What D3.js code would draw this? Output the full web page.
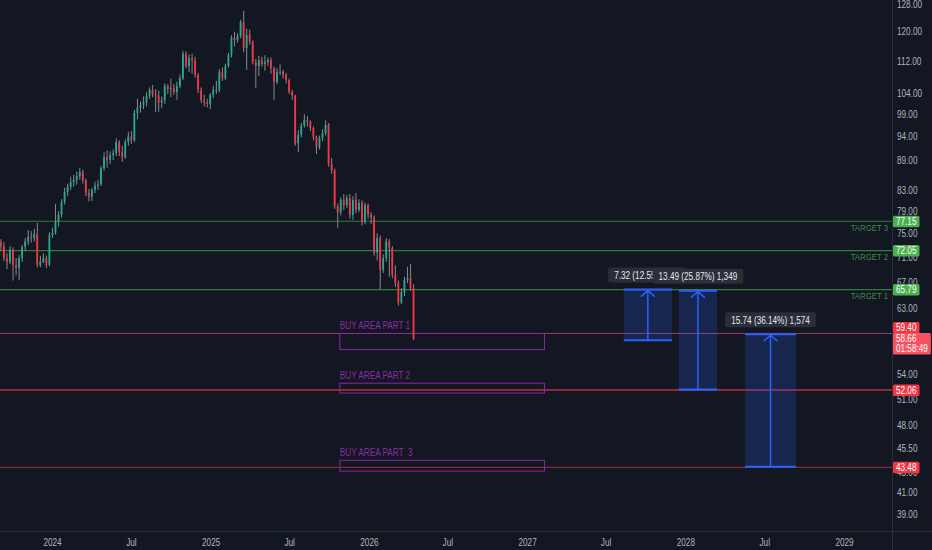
<!DOCTYPE html>
<html>
<head>
<meta charset="utf-8">
<script src="https://cdn.jsdelivr.net/npm/d3@7"></script>
<style>
    body { margin: 0; background: #131722; overflow: hidden; }
    svg text { font-family: "Liberation Sans", Arial, sans-serif; white-space: pre; }
</style>
</head>
<body>
<div id="chart"></div>
<script>
// weekly candles, first week 2023-08-21
let firstWeek = new Date(2023, 7, 21);
let opens = [
    73.6, 74.2, 73.4, 72.7, 70.8, 70.2, 72.2, 69.7, 69.2, 70.8,
    72.7, 73.6, 74.4, 74.2, 74.9, 69.7, 70.2, 70.8, 69.7, 74.7,
    75.1, 77.0, 78.3, 80.7, 82.6, 83.6, 84.5, 84.9, 85.7, 86.5,
    84.9, 82.4, 81.7, 83.0, 83.8, 84.1, 87.3, 89.6, 89.0, 90.0,
    90.4, 92.8, 90.7, 89.6, 92.8, 94.0, 93.2, 99.3, 100.5, 101.2,
    101.8, 103.4, 104.8, 103.6, 103.4, 101.8, 102.3, 105.7, 105.0, 105.2,
    104.3, 105.7, 107.7, 114.0, 110.8, 112.8, 112.3, 108.5, 104.8, 102.3,
    101.8, 101.4, 103.6, 104.8, 104.8, 109.3, 107.7, 110.8, 113.7, 118.3,
    117.7, 118.8, 122.7, 115.5, 119.1, 117.2, 111.8, 110.8, 112.3, 111.3,
    111.8, 112.3, 110.2, 106.7, 109.3, 109.3, 108.5, 107.2, 104.3, 103.4,
    92.5, 94.4, 96.4, 97.7, 97.2, 95.9, 93.9, 91.7, 93.7, 94.8,
    96.6, 88.2, 86.9, 79.9, 78.8, 81.1, 80.1, 81.4, 78.3, 81.1,
    79.2, 80.5, 77.0, 80.1, 78.3, 77.8, 71.7, 74.2, 68.9, 70.8,
    73.6, 72.5, 68.1, 66.8, 63.8, 65.4, 67.3, 67.6, 66.0
];
let highs = [
    75.0, 75.2, 74.0, 73.5, 71.6, 72.8, 72.6, 70.8, 71.3, 73.0,
    74.2, 75.6, 75.4, 75.8, 76.9, 71.2, 71.6, 71.2, 75.2, 76.0,
    80.3, 79.0, 81.2, 83.4, 84.2, 85.6, 86.0, 86.6, 87.4, 87.0,
    85.2, 83.2, 83.4, 84.6, 85.0, 87.8, 90.6, 91.0, 90.8, 91.2,
    93.6, 93.2, 92.0, 93.4, 95.0, 95.2, 100.0, 102.6, 102.0, 103.2,
    104.2, 105.4, 106.0, 105.0, 104.6, 103.2, 106.4, 106.2, 107.6, 106.2,
    106.8, 108.6, 114.8, 114.6, 113.8, 114.0, 113.2, 109.0, 105.4, 103.6,
    102.6, 104.0, 105.8, 107.0, 110.0, 110.4, 111.4, 114.2, 119.0, 120.0,
    119.6, 123.4, 126.0, 120.8, 120.6, 117.6, 112.6, 113.4, 113.2, 113.6,
    113.0, 113.0, 110.6, 110.2, 111.2, 109.8, 109.0, 107.6, 104.8, 103.6,
    95.4, 97.0, 99.0, 98.6, 97.6, 96.2, 94.2, 94.2, 95.6, 97.6,
    97.0, 89.4, 87.2, 80.4, 81.6, 82.2, 82.0, 82.2, 81.8, 82.4,
    81.2, 81.0, 80.6, 80.4, 78.8, 78.2, 75.0, 74.6, 71.4, 74.2,
    74.0, 72.8, 69.6, 67.2, 66.0, 67.8, 69.4, 69.8, 66.6
];
let lows = [
    73.0, 72.8, 72.0, 70.3, 69.0, 69.8, 67.2, 68.0, 67.3, 70.2,
    72.0, 73.0, 73.4, 73.6, 69.3, 69.3, 70.0, 69.2, 69.5, 74.2,
    74.8, 76.2, 77.8, 80.2, 81.8, 83.0, 83.6, 84.0, 85.0, 84.2,
    81.8, 80.8, 80.9, 82.4, 83.0, 83.8, 86.8, 87.4, 88.2, 89.0,
    89.8, 89.8, 88.6, 89.2, 92.0, 92.4, 92.8, 97.8, 99.4, 100.2,
    100.8, 102.6, 103.0, 99.5, 99.6, 100.4, 101.4, 103.8, 103.0, 103.6,
    102.4, 105.2, 107.2, 110.2, 109.2, 108.8, 107.8, 104.0, 101.6, 100.8,
    100.6, 100.2, 102.8, 103.8, 104.2, 107.0, 107.2, 110.4, 113.0, 116.0,
    117.0, 118.2, 114.4, 109.8, 116.4, 111.2, 105.2, 108.2, 110.6, 109.6,
    110.8, 108.8, 102.4, 106.2, 108.4, 107.6, 106.4, 103.8, 102.4, 92.0,
    90.6, 93.8, 96.0, 96.2, 95.2, 93.2, 90.2, 91.2, 93.0, 94.2,
    87.6, 86.2, 79.4, 76.0, 78.2, 79.2, 79.6, 77.6, 77.4, 78.6,
    78.8, 76.4, 76.6, 77.6, 76.6, 71.2, 70.4, 65.8, 68.4, 70.2,
    67.8, 67.6, 66.2, 63.4, 63.6, 64.8, 66.8, 65.6, 58.5
];
let closes = [
    74.2, 73.4, 72.7, 70.8, 70.2, 72.2, 69.7, 69.2, 70.8, 72.7,
    73.6, 74.4, 74.2, 74.9, 69.7, 70.2, 70.8, 69.7, 74.7, 75.1,
    77.0, 78.3, 80.7, 82.6, 83.6, 84.5, 84.9, 85.7, 86.5, 84.9,
    82.4, 81.7, 83.0, 83.8, 84.1, 87.3, 89.6, 89.0, 90.0, 90.4,
    92.8, 90.7, 89.6, 92.8, 94.0, 93.2, 99.3, 100.5, 101.2, 101.8,
    103.4, 104.8, 103.6, 103.4, 101.8, 102.3, 105.7, 105.0, 105.2, 104.3,
    105.7, 107.7, 114.0, 110.8, 112.8, 112.3, 108.5, 104.8, 102.3, 101.8,
    101.4, 103.6, 104.8, 104.8, 109.3, 107.7, 110.8, 113.7, 118.3, 117.7,
    118.8, 122.7, 115.5, 119.1, 117.2, 111.8, 110.8, 112.3, 111.3, 111.8,
    112.3, 110.2, 106.7, 109.3, 109.3, 108.5, 107.2, 104.3, 103.4, 92.5,
    94.4, 96.4, 97.7, 97.2, 95.9, 93.9, 91.7, 93.7, 94.8, 96.6,
    88.2, 86.9, 79.9, 78.8, 81.1, 80.1, 81.4, 78.3, 81.1, 79.2,
    80.5, 77.0, 80.1, 78.3, 77.8, 71.7, 74.2, 68.9, 70.8, 73.6,
    72.5, 68.1, 66.8, 63.8, 65.4, 67.3, 67.6, 66.0, 58.66
];

// horizontal levels
let targetPrices = [77.15, 72.05, 65.79];
let targetNames = ["TARGET 3", "TARGET 2", "TARGET 1"];
let supportPrices = [59.40, 52.06, 43.48];

// buy zones
let buyNames = ["BUY AREA PART 1", "BUY AREA PART 2", "BUY AREA PART  3"];
let buyTops = [59.40, 52.9, 44.2];
let buyBottoms = [57.2, 51.7, 43.1];
let buyStart = new Date(2025, 9, 26);
let buyEnd = new Date(2027, 1, 10);

// price range measurements
let rangeFrom = [58.47, 52.14, 43.55];
let rangeTo = [65.79, 65.63, 59.29];
let rangeStart = [new Date(2027, 7, 12), new Date(2027, 11, 17), new Date(2028, 4, 18)];
let rangeEnd = [new Date(2027, 11, 1), new Date(2028, 2, 14), new Date(2028, 8, 12)];
let rangeLabels = ["7.32 (12.55%) 732", "13.49 (25.87%) 1,349", "15.74 (36.14%) 1,574"];

// axes
let priceTicks = [128, 120, 112, 104, 99, 94, 89, 83, 79, 75, 71, 67, 63, 54, 51, 48, 45.5, 43, 41, 39];
let timeTicks = [new Date(2024, 0, 1), new Date(2024, 6, 1), new Date(2025, 0, 1), new Date(2025, 6, 1),
    new Date(2026, 0, 1), new Date(2026, 6, 1), new Date(2027, 0, 1), new Date(2027, 6, 1),
    new Date(2028, 0, 1), new Date(2028, 6, 1), new Date(2029, 0, 1)];

let lastPrice = 58.66;
let countdown = "01:58:49";

const width = 932, height = 550;
const plotW = 892, plotH = 531;
const narrow = 0.82;

const svg = d3.select("#chart").append("svg")
    .attr("width", width)
    .attr("height", height)
    .style("background", "#131722");

const x = d3.scaleTime()
    .domain([new Date(2024, 0, 1), new Date(2029, 0, 1)])
    .range([52, 844]);
const y = d3.scaleLog()
    .domain([39, 128])
    .range([514, 4]);

// squeeze text horizontally around its x anchor (chart font is condensed)
function squash(sel) {
    sel.each(function() {
        let t = d3.select(this);
        let ax = +t.attr("x") || 0;
        t.attr("transform", `translate(${ax},0) scale(${narrow},1) translate(${-ax},0)`);
    });
}

svg.append("clipPath").attr("id", "plotClip")
    .append("rect").attr("width", plotW).attr("height", plotH);

const plot = svg.append("g").attr("clip-path", "url(#plotClip)");

// ---- level lines
targetPrices.forEach((p, i) => {
    plot.append("line")
        .attr("x1", 0).attr("x2", plotW)
        .attr("y1", y(p)).attr("y2", y(p))
        .style("stroke", "#2f7d3a").style("stroke-width", 1.2);
    plot.append("text")
        .attr("x", plotW - 4)
        .attr("y", y(p) + 9.5)
        .attr("text-anchor", "end")
        .style("font-size", "9.5px")
        .style("fill", "#3d8c46")
        .text(targetNames[i])
        .call(squash);
});
let supportColors = ["#a33a62", "#b8303f", "#9e2f3e"];
supportPrices.forEach((p, i) => {
    plot.append("line")
        .attr("x1", 0).attr("x2", plotW)
        .attr("y1", y(p)).attr("y2", y(p))
        .style("stroke", supportColors[i]).style("stroke-width", i == 1 ? 1.6 : 1);
});

// ---- buy areas
buyNames.forEach((name, i) => {
    plot.append("rect")
        .attr("x", x(buyStart))
        .attr("y", y(buyTops[i]))
        .attr("width", x(buyEnd) - x(buyStart))
        .attr("height", y(buyBottoms[i]) - y(buyTops[i]))
        .style("fill", "none")
        .style("stroke", "#8e24aa")
        .style("stroke-width", 1);
    plot.append("text")
        .attr("x", x(buyStart))
        .attr("y", y(buyTops[i]) - 4)
        .attr("xml:space", "preserve")
        .style("font-size", "10px")
        .style("fill", "#8e2aa6")
        .text(name)
        .call(squash);
});

// ---- candles
let step = x(new Date(2024, 0, 8)) - x(new Date(2024, 0, 1));
closes.forEach((c, i) => {
    let d = d3.timeDay.offset(firstWeek, 7 * i);
    let cx = x(d);
    let o = opens[i];
    let up = c >= o;
    plot.append("line")
        .attr("x1", cx + 0.5).attr("x2", cx + 0.5)
        .attr("y1", y(highs[i])).attr("y2", y(lows[i]))
        .style("stroke", "#868993")
        .style("stroke-width", 1);
    plot.append("rect")
        .attr("x", cx - 0.5)
        .attr("y", y(Math.max(o, c)))
        .attr("width", step * 0.6)
        .attr("height", Math.max(1, Math.abs(y(o) - y(c))))
        .attr("fill", up ? "#22ab94" : "#f23645");
});

// ---- price range tools
rangeFrom.forEach((p, i) => {
    let x0 = x(rangeStart[i]), x1 = x(rangeEnd[i]);
    let yTop = y(rangeTo[i]), yBot = y(p);
    let mid = (x0 + x1) / 2;
    plot.append("rect")
        .attr("x", x0).attr("y", yTop)
        .attr("width", x1 - x0).attr("height", yBot - yTop)
        .style("fill", "rgba(41, 98, 255, 0.2)");
    [yTop, yBot].forEach(yy => {
        plot.append("line")
            .attr("x1", x0).attr("x2", x1)
            .attr("y1", yy).attr("y2", yy)
            .style("stroke", "#2962ff").style("stroke-width", 2);
    });
    plot.append("line")
        .attr("x1", mid).attr("x2", mid)
        .attr("y1", yBot).attr("y2", yTop + 1)
        .style("stroke", "#2962ff").style("stroke-width", 1.5);
    plot.append("path")
        .attr("d", `M${mid - 7},${yTop + 7} L${mid},${yTop + 1} L${mid + 7},${yTop + 7}`)
        .style("fill", "none")
        .style("stroke", "#2962ff").style("stroke-width", 1.5);
});
rangeLabels.forEach((label, i) => {
    let mid = (x(rangeStart[i]) + x(rangeEnd[i])) / 2;
    let yTop = y(rangeTo[i]);
    const g = plot.append("g");
    const t = g.append("text")
        .attr("x", mid)
        .attr("y", yTop - 10.5)
        .attr("text-anchor", "middle")
        .style("font-size", "10px")
        .style("fill", "#e6e8ee")
        .text(label)
        .call(squash);
    let w = t.node().getBBox().width * narrow;
    g.insert("rect", "text")
        .attr("x", mid - w / 2 - 6).attr("y", yTop - 22)
        .attr("width", w + 12).attr("height", 15)
        .attr("rx", 2)
        .style("fill", "#2a2e39");
});

// ---- axes frame
svg.append("line")
    .attr("x1", plotW + 0.5).attr("x2", plotW + 0.5)
    .attr("y1", 0).attr("y2", height)
    .style("stroke", "#2a2e39");
svg.append("line")
    .attr("x1", 0).attr("x2", width)
    .attr("y1", plotH + 0.5).attr("y2", plotH + 0.5)
    .style("stroke", "#2a2e39");

const priceAxis = d3.axisRight(y)
    .tickValues(priceTicks)
    .tickSize(0)
    .tickPadding(5)
    .tickFormat(d3.format(".2f"));
svg.append("g")
    .attr("transform", `translate(${plotW}, 0)`)
    .call(priceAxis)
    .call(g => g.select(".domain").remove())
    .selectAll("text")
    .style("font-size", "10px")
    .style("fill", "#b2b5be")
    .call(squash);

const timeAxis = d3.axisBottom(x)
    .tickValues(timeTicks)
    .tickSize(0)
    .tickPadding(8)
    .tickFormat(d => d.getMonth() == 0 ? d3.timeFormat("%Y")(d) : "Jul");
svg.append("g")
    .attr("transform", `translate(0, ${plotH})`)
    .call(timeAxis)
    .call(g => g.select(".domain").remove())
    .selectAll("text")
    .style("font-size", "10px")
    .style("fill", "#b2b5be")
    .call(squash);

// ---- price tags on the scale
function priceTag(yy, color, lines) {
    const g = svg.append("g");
    const box = g.append("rect");
    let w = 0;
    lines.forEach((s, k) => {
        const t = g.append("text")
            .attr("x", plotW + 4)
            .attr("y", yy + 9 + k * 10)
            .style("font-size", "10px")
            .style("fill", "#ffffff")
            .text(s)
            .call(squash);
        w = Math.max(w, t.node().getBBox().width * narrow);
    });
    box.attr("x", plotW + 1).attr("y", yy)
        .attr("width", w + 6).attr("height", lines.length * 10 + 1.5)
        .attr("rx", 1.5)
        .style("fill", color);
}
targetPrices.forEach(p => priceTag(y(p) - 5.5, "#4caf50", [p.toFixed(2)]));
priceTag(y(supportPrices[0]) - 11.5, "#f23645", [supportPrices[0].toFixed(2)]);
priceTag(y(supportPrices[0]) - 0.5, "#f7525f", [lastPrice.toFixed(2), countdown]);
priceTag(y(supportPrices[1]) - 5.5, "#f23645", [supportPrices[1].toFixed(2)]);
priceTag(y(supportPrices[2]) - 5.5, "#f23645", [supportPrices[2].toFixed(2)]);
</script>
</body>
</html>
